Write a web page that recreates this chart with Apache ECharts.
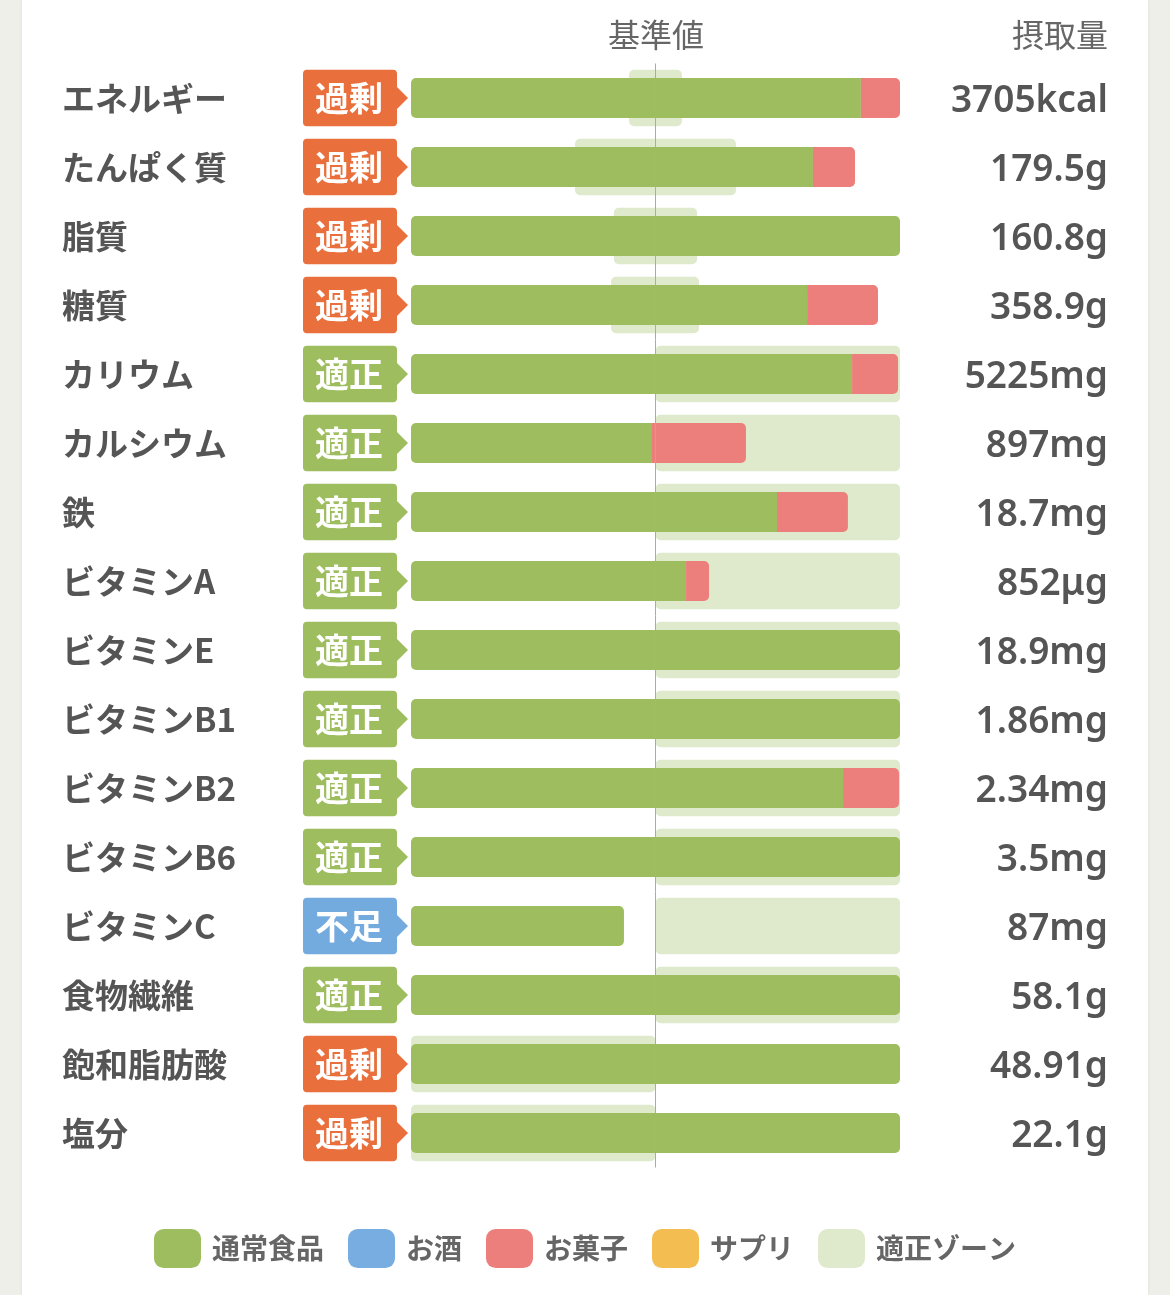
<!DOCTYPE html>
<html>
<head>
    <meta charset="utf-8">
    <title>栄養バランス</title>
    <script src="https://cdn.jsdelivr.net/npm/echarts@6/dist/echarts.min.js"></script>
    <style>
        html, body {margin:0;padding:0;background:#efefea;}
        .card {position:absolute;left:22px;top:0;width:1126px;height:1295px;background:#fff;box-shadow:0 0 3px rgba(0,0,0,0.08);}
        #chart {position:absolute;left:0;top:0;width:1170px;height:1295px;}
    </style>
</head>
<body>
<div class="card"></div>
<div id="chart"></div>
<script>
    // 栄養素
    const nutrients = ['エネルギー','たんぱく質','脂質','糖質','カリウム','カルシウム','鉄','ビタミンA','ビタミンE','ビタミンB1','ビタミンB2','ビタミンB6','ビタミンC','食物繊維','飽和脂肪酸','塩分'];
    const intake = ['3705kcal','179.5g','160.8g','358.9g','5225mg','897mg','18.7mg','852μg','18.9mg','1.86mg','2.34mg','3.5mg','87mg','58.1g','48.91g','22.1g'];
    const status = ['過剰','過剰','過剰','過剰','適正','適正','適正','適正','適正','適正','適正','適正','不足','適正','過剰','過剰'];
    // 基準値に対する割合(%)  200で頭打ち
    const normalFood = [184, 164.4, 200, 162, 180.4, 98.2, 149.7, 112.5, 200, 200, 176.7, 200, 87.1, 200, 200, 200];
    const alcohol    = [0, 0, 0, 0, 0, 0, 0, 0, 0, 0, 0, 0, 0, 0, 0, 0];
    const snacks     = [16, 17.2, 0, 29, 18.8, 38.8, 29, 9.4, 0, 0, 22.9, 0, 0, 0, 0, 0];
    const supplement = [0, 0, 0, 0, 0, 0, 0, 0, 0, 0, 0, 0, 0, 0, 0, 0];
    // 適正ゾーン
    const zoneLow  = [89.2, 67.1, 83, 81.8, 100, 100, 100, 100, 100, 100, 100, 100, 100, 100, 0, 0];
    const zoneHigh = [110.8, 132.9, 117, 117.8, 200, 200, 200, 200, 200, 200, 200, 200, 200, 200, 100, 100];
    const baseValue = 100;

    const GREEN = '#9dbd5e', BLUE = '#77ade0', RED = '#ec7f7b', YELLOW = '#f3bd52', ZONE = '#dfe9cc';
    const badgeColor = {'過剰': '#e9703d', '適正': '#9dbd5e', '不足': '#74abdf'};
    const FONT = '"Noto Sans CJK JP", "Noto Sans", sans-serif';

    const chart = echarts.init(document.getElementById('chart'));

    // 通常食品の右端の角丸は上に何も積まれない時だけ
    const greenData = normalFood.map(function (v, i) {
        const topped = alcohol[i] + snacks[i] + supplement[i] > 0;
        return {value: v, itemStyle: {borderRadius: topped ? [5, 0, 0, 5] : 5}};
    });
    const redData = snacks.map(function (v, i) {
        return {value: v, itemStyle: {borderRadius: [0, 5, 5, 0]}};
    });

    const option = {
        animation: false,
        title: [
            {text: '基準値', left: 656, textAlign: 'center', top: 19, padding: 0,
                textStyle: {fontFamily: FONT, fontSize: 32, fontWeight: 'normal', color: '#666'}},
            {text: '摂取量', right: 62, top: 19, padding: 0,
                textStyle: {fontFamily: FONT, fontSize: 32, fontWeight: 'normal', color: '#666'}}
        ],
        legend: {
            data: ['通常食品', 'お酒', 'お菓子', 'サプリ', '適正ゾーン'],
            left: 'center', top: 1224,
            icon: 'roundRect', itemWidth: 47, itemHeight: 39, itemGap: 24,
            textStyle: {fontFamily: FONT, fontSize: 28, fontWeight: 'bold', color: '#666', padding: [0, 0, 0, 6]}
        },
        grid: {left: 411, right: 270, top: 63.5, bottom: 127.5},
        xAxis: {type: 'value', min: 0, max: 200, show: false},
        yAxis: [
            {
                type: 'category', data: nutrients, inverse: true,
                axisLine: {show: false}, axisTick: {show: false}, splitLine: {show: false},
                axisLabel: {align: 'left', margin: 349, fontFamily: FONT, fontSize: 33, fontWeight: 'bold', color: '#555'}
            },
            {
                type: 'category', data: intake, inverse: true, position: 'right',
                axisLine: {show: false}, axisTick: {show: false}, splitLine: {show: false},
                axisLabel: {
                    align: 'right', margin: 208,
                    formatter: function (v) { return '{v|' + v + '}'; },
                    rich: {v: {padding: [6, 0, 0, 0], fontFamily: '"Noto Sans", sans-serif', fontSize: 37, fontWeight: 600, color: '#555'}}
                }
            }
        ],
        series: [
            {
                name: '適正ゾーン', type: 'custom', z: 1,
                itemStyle: {color: ZONE},
                data: zoneLow.map(function (lo, i) { return [lo, zoneHigh[i], i]; }),
                renderItem: function (params, api) {
                    const p0 = api.coord([api.value(0), api.value(2)]);
                    const p1 = api.coord([api.value(1), api.value(2)]);
                    const h = api.size([0, 1])[1] * 0.82;
                    return {
                        type: 'rect',
                        shape: {x: p0[0], y: p0[1] - h / 2, width: p1[0] - p0[0], height: h, r: 5},
                        style: {fill: api.visual('color')}
                    };
                }
            },
            {
                name: '状態', type: 'custom', z: 3,
                data: status.map(function (s, i) { return [0, i]; }),
                renderItem: function (params, api) {
                    const i = params.dataIndex;
                    const p = api.coord([0, i]);
                    const h = api.size([0, 1])[1] * 0.82;
                    const x0 = p[0] - 108, w = 94, cy = p[1];
                    const c = badgeColor[status[i]];
                    return {
                        type: 'group',
                        children: [
                            {type: 'rect', shape: {x: x0, y: cy - h / 2, width: w, height: h, r: 4}, style: {fill: c}},
                            {type: 'polygon', shape: {points: [[x0 + w - 1, cy - 12], [x0 + w + 11, cy], [x0 + w - 1, cy + 12]]}, style: {fill: c}},
                            {type: 'text', style: {text: status[i], x: x0 + w / 2 - 1, y: cy, align: 'center', verticalAlign: 'middle',
                                    fill: '#fff', font: 'bold 34px ' + FONT}}
                        ]
                    };
                }
            },
            {
                name: '通常食品', type: 'bar', stack: 'total', barWidth: 40, z: 2,
                itemStyle: {color: GREEN}, data: greenData,
                markLine: {
                    silent: true, symbol: 'none', label: {show: false},
                    lineStyle: {color: '#aaa', width: 1, type: 'solid'},
                    data: [{xAxis: baseValue}]
                }
            },
            {name: 'お酒', type: 'bar', stack: 'total', barWidth: 40, itemStyle: {color: BLUE}, data: alcohol},
            {name: 'お菓子', type: 'bar', stack: 'total', barWidth: 40, itemStyle: {color: RED}, data: redData},
            {name: 'サプリ', type: 'bar', stack: 'total', barWidth: 40, itemStyle: {color: YELLOW}, data: supplement}
        ]
    };
    chart.setOption(option);
    window.onresize = function(){chart.resize()}
</script>
</body>
</html>
